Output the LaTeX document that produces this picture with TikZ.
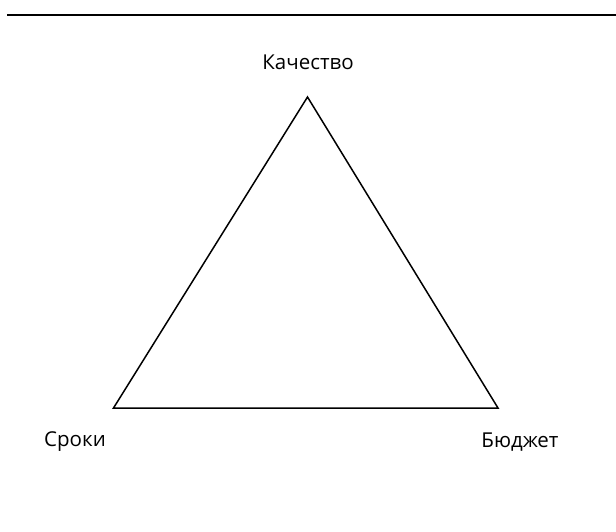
\documentclass[tikz,border=0pt]{standalone}
\usepackage{fontspec}
\setmainfont{Open Sans}
\usepackage{tikz}

\begin{document}
\begin{tikzpicture}[x=1pt,y=-1pt,
		label/.style={font=\fontsize{20.5}{24}\selectfont, inner sep=0pt},
		edge/.style={line width=1.5pt}]
			
			\useasboundingbox (0,0) rectangle (616,531);
			
			\draw[line width=2pt] (7,14.5) -- (616,14.5);
			
			\coordinate (top) at (307.5,97);
			\coordinate (left) at (113.5,408);
			\coordinate (right) at (498,408);
			
			\node[label] (kachestvo) at (308,62) {Качество};
			\node[label] (sroki) at (75,442) {Сроки};
			\node[label] (budget) at (520,442) {Бюджет};
			
			\draw[edge, line join=miter] (top) -- (right) -- (left) -- cycle;
		\end{tikzpicture}
\end{document}
